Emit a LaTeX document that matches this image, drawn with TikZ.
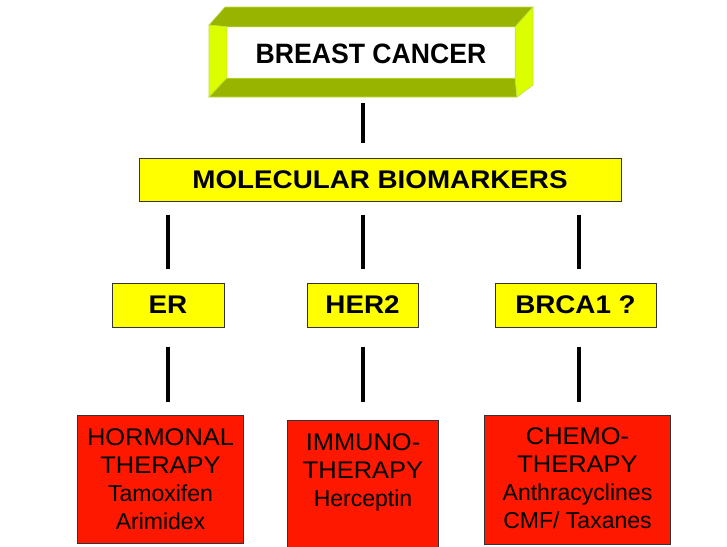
\documentclass[tikz,border=0pt]{standalone}
\usepackage{fontspec}
\setmainfont{Liberation Sans}
\newfontfamily\bcfont{Liberation Sans}[FakeStretch=0.95]
\newfontfamily\ylfont{Liberation Sans}[FakeStretch=1.09]
\newfontfamily\rdfont{Liberation Sans}[FakeStretch=1.06]
\usetikzlibrary{calc}
\definecolor{bevdark}{RGB}{153,180,0}
\definecolor{bevlight}{RGB}{220,255,0}
\definecolor{bevline}{RGB}{190,225,60}
\definecolor{boxyellow}{RGB}{255,255,0}
\definecolor{boxred}{RGB}{255,24,0}
\begin{document}
\begin{tikzpicture}[x=1pt,y=-1pt,
  ybox/.style={draw=black!80, line width=1pt, fill=boxyellow, inner sep=0pt,
    text height=30.5pt, text depth=13.5pt, minimum height=44pt,
    font=\ylfont\bfseries\fontsize{25.5}{28}\selectfont},
  rbox/.style={draw=black!80, line width=1pt, fill=boxred, inner sep=0pt, anchor=north west},
  face/.style={draw=bevline, line width=0.6pt},
  conn/.style={line width=4pt, black}]
\useasboundingbox (0,0) rectangle (727,546);
\clip (0,0) rectangle (727,546);
\fill[white] (0,0) rectangle (727,546);

% top bevelled frame
\node[fill=white, inner sep=0pt, minimum width=288pt, text height=36.3pt, text depth=14.7pt,
  font=\bcfont\bfseries\fontsize{28}{30}\selectfont] (bc) at (371,52.5) {BREAST CANCER};
\filldraw[face, fill=bevdark] (209,25) -- (225,7) -- (533,7) -- (bc.north east) -- (bc.north west) -- cycle;
\filldraw[face, fill=bevlight] (209,25) -- (bc.north west) -- (bc.south west) -- (209,97) -- cycle;
\filldraw[face, fill=bevdark] (209,97) -- (bc.south west) -- (bc.south east) -- (517,97) -- cycle;
\filldraw[face, fill=bevlight] (bc.north east) -- (533,7) -- (533,85) -- (517,97) -- (bc.south east) -- cycle;

% molecular biomarkers
\node[ybox, minimum height=43pt, text height=30.3pt, text depth=12.7pt, minimum width=482pt] (mb) at (380,179.5) {MOLECULAR BIOMARKERS};

% markers
\node[ybox, minimum width=112pt] (er) at (168,305) {ER};
\node[ybox, minimum width=111pt] (her2) at (362.5,305) {HER2};
\node[ybox, minimum width=161pt] (brca) at (575.5,305) {BRCA1 ?};

% therapies
\node[rbox] (hor) at (77,415) {\parbox[t][128pt][t]{166pt}{\centering
  \rdfont\fontsize{24}{28}\selectfont\rule{0pt}{30pt}HORMONAL\\THERAPY\\
  \normalfont\fontsize{23}{28}\selectfont Tamoxifen\\Arimidex}};
\node[rbox] (imm) at (287,420) {\parbox[t][140pt][t]{151pt}{\centering
  \rdfont\fontsize{24}{28}\selectfont\rule{0pt}{30pt}IMMUNO-\\THERAPY\\
  \normalfont\fontsize{23}{28}\selectfont Herceptin}};
\node[rbox] (che) at (484,415) {\parbox[t][129pt][t]{186pt}{\centering
  \rdfont\fontsize{24}{28}\selectfont\rule{0pt}{29pt}CHEMO-\\THERAPY\\
  \normalfont\fontsize{23}{28}\selectfont Anthracyclines\\CMF/ Taxanes}};

% connectors
\draw[conn] ($(bc.south -| her2.north)+(0pt,-25pt)$) -- ($(mb.north -| her2.north)+(0pt,15pt)$);
\draw[conn] ($(mb.south -| er.north)+(0pt,-13pt)$) -- ($(er.north)+(0pt,14pt)$);
\draw[conn] ($(mb.south -| her2.north)+(0pt,-13pt)$) -- ($(her2.north)+(0pt,14pt)$);
\draw[conn] ($(mb.south -| brca.north)+(3pt,-13pt)$) -- ($(brca.north)+(3pt,14pt)$);
\draw[conn] ($(er.south)+(0pt,-19pt)$) -- ($(er.south |- hor.north)+(0pt,13pt)$);
\draw[conn] ($(her2.south)+(0pt,-19pt)$) -- ($(her2.south |- imm.north)+(0pt,18pt)$);
\draw[conn] ($(brca.south)+(3pt,-19pt)$) -- ($(brca.south |- che.north)+(3pt,13pt)$);
\end{tikzpicture}
\end{document}
